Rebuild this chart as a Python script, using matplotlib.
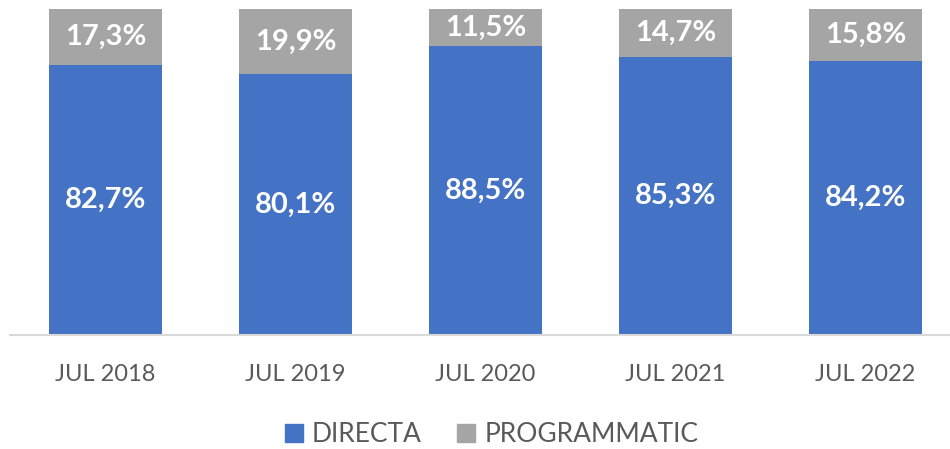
import matplotlib
matplotlib.use("Agg")
import matplotlib.pyplot as plt
from matplotlib.patches import Patch

categories = ["JUL 2018", "JUL 2019", "JUL 2020", "JUL 2021", "JUL 2022"]
directa = [82.7, 80.1, 88.5, 85.3, 84.2]
programmatic = [17.3, 19.9, 11.5, 14.7, 15.8]
series_names = ["DIRECTA", "PROGRAMMATIC"]

blue = "#4472C4"
gray = "#A5A5A5"
font = "Lato"

fig = plt.figure(figsize=(9.5, 4.49), dpi=100)
ax = fig.add_axes([10/950, 114/449, 940/950, 326/449])
x = list(range(len(categories)))
w = 0.59
ax.bar(x, directa, width=w, color=blue, zorder=2)
ax.bar(x, programmatic, width=w, bottom=directa, color=gray, zorder=2)

def fmt(v):
    return f"{v:.1f}".replace(".", ",") + "%"

for i in x:
    ax.text(i, directa[i] / 2, fmt(directa[i]), ha="center", va="center",
            color="white", fontsize=21, fontweight="bold", family=font)
    ax.text(i, directa[i] + programmatic[i] / 2, fmt(programmatic[i]), ha="center", va="center",
            color="white", fontsize=21, fontweight="bold", family=font)

ax.set_xlim(-0.5026, 4.445)
ax.set_ylim(0, 100)
ax.set_yticks([])
ax.set_xticks(x)
ax.set_xticklabels(categories, fontsize=17, color="#595959", family=font)
ax.tick_params(axis="x", length=0, pad=21)
for s in ["top", "right", "left"]:
    ax.spines[s].set_visible(False)
ax.spines["bottom"].set_color("#D9D9D9")
ax.spines["bottom"].set_linewidth(1.5)
ax.spines["bottom"].set_zorder(3)

handles = [Patch(color=blue, label=series_names[0]), Patch(color=gray, label=series_names[1])]
fig.legend(handles=handles, loc="center", bbox_to_anchor=(491.5/950, 1 - 435/449), ncol=2,
           frameon=False, prop={"family": font, "size": 19}, labelcolor="#595959",
           handlelength=0.68, handleheight=0.68, handletextpad=0.34, columnspacing=1.36)

fig.savefig("out.png", dpi=100)
